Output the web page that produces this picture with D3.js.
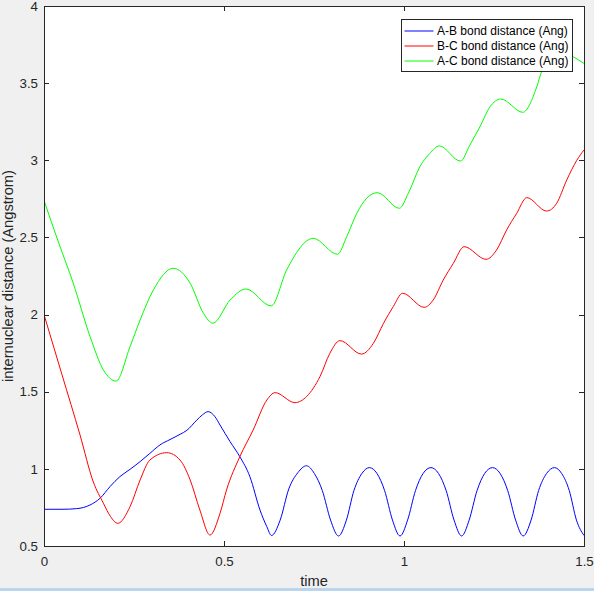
<!DOCTYPE html>
<html>
<head>
<meta charset="utf-8">
<script src="https://cdn.jsdelivr.net/npm/d3@7"></script>
<style>
  html, body { margin: 0; padding: 0; background: #f0f0f0; }
  svg { display: block; font-family: "Liberation Sans", Arial, Helvetica, sans-serif; }
  .axis path, .axis line { stroke: #262626; shape-rendering: crispEdges; }
  .axis text { fill: #262626; font-size: 13.3px; }
  .label { fill: #262626; font-size: 14.67px; }
  .legend text { fill: #000; font-size: 12px; }
</style>
</head>
<body>
<div id="chart"></div>
<script>
// A-B bond distance (blue)
const abTime = [0, 0.05, 0.09, 0.11, 0.128, 0.156, 0.183, 0.211, 0.239, 0.267,
  0.294, 0.322, 0.35, 0.378, 0.397, 0.424, 0.44, 0.456, 0.475, 0.489,
  0.517, 0.544, 0.572, 0.6, 0.619, 0.632, 0.656, 0.68, 0.705, 0.729,
  0.751, 0.773, 0.796, 0.818, 0.84, 0.861, 0.883, 0.904, 0.925, 0.946,
  0.968, 0.989, 1.01, 1.032, 1.053, 1.075, 1.096, 1.117, 1.139, 1.16,
  1.181, 1.203, 1.224, 1.246, 1.267, 1.288, 1.31, 1.331, 1.353, 1.374,
  1.396, 1.418, 1.438, 1.459, 1.479, 1.5];
const abDist = [0.738, 0.738, 0.742, 0.75, 0.766, 0.81, 0.884, 0.95, 0.997, 1.047,
  1.10, 1.155, 1.19, 1.224, 1.25, 1.315, 1.35, 1.371, 1.338, 1.284,
  1.176, 1.079, 0.949, 0.733, 0.625, 0.568, 0.668, 0.87, 0.975, 1.02,
  0.97, 0.86, 0.668, 0.565, 0.668, 0.86, 0.97, 1.008, 0.97, 0.86,
  0.668, 0.565, 0.668, 0.86, 0.97, 1.008, 0.97, 0.86, 0.668, 0.565,
  0.668, 0.86, 0.97, 1.008, 0.97, 0.86, 0.668, 0.565, 0.668, 0.86,
  0.97, 1.008, 0.97, 0.86, 0.668, 0.568];

// B-C bond distance (red)
const bcTime = [0, 0.05, 0.1, 0.137, 0.165, 0.185, 0.205, 0.239, 0.267, 0.294,
  0.341, 0.378, 0.406, 0.433, 0.461, 0.489, 0.507, 0.544, 0.581, 0.619,
  0.642, 0.697, 0.73, 0.767, 0.794, 0.822, 0.882, 0.915, 0.943, 0.97,
  0.996, 1.056, 1.081, 1.109, 1.137, 1.167, 1.228, 1.257, 1.285, 1.313,
  1.341, 1.396, 1.424, 1.452, 1.48, 1.5];
const bcDist = [2.0, 1.61, 1.22, 0.915, 0.777, 0.69, 0.647, 0.755, 0.928, 1.057,
  1.105, 1.057, 0.928, 0.733, 0.571, 0.712, 0.863, 1.079, 1.252, 1.446,
  1.494, 1.429, 1.47, 1.60, 1.749, 1.831, 1.744, 1.814, 1.943, 2.051,
  2.138, 2.047, 2.094, 2.224, 2.332, 2.44, 2.358, 2.418, 2.548, 2.656,
  2.758, 2.671, 2.721, 2.872, 3.0, 3.067];

// A-C bond distance (green)
const acTime = [0, 0.04, 0.081, 0.128, 0.165, 0.2, 0.239, 0.267, 0.304, 0.359,
  0.406, 0.443, 0.469, 0.517, 0.561, 0.631, 0.674, 0.748, 0.815, 0.841,
  0.869, 0.896, 0.926, 0.987, 1.012, 1.044, 1.072, 1.098, 1.157, 1.183,
  1.211, 1.239, 1.269, 1.33, 1.369, 1.383, 1.438, 1.47, 1.5];
const acDist = [2.74, 2.47, 2.205, 1.857, 1.641, 1.569, 1.792, 1.965, 2.16, 2.30,
  2.203, 2.008, 1.944, 2.094, 2.166, 2.056, 2.289, 2.494, 2.391, 2.505,
  2.657, 2.753, 2.79, 2.689, 2.786, 2.958, 3.045, 3.093, 2.995, 3.099,
  3.218, 3.347, 3.397, 3.311, 3.477, 3.579, 3.71, 3.671, 3.628];

const xTicks = [0, 0.5, 1, 1.5];
const xTickLabels = ['0', '0.5', '1', '1.5'];
const yTicks = [0.5, 1, 1.5, 2, 2.5, 3, 3.5, 4];
const yTickLabels = ['0.5', '1', '1.5', '2', '2.5', '3', '3.5', '4'];

const seriesNames = ['A-B bond distance (Ang)', 'B-C bond distance (Ang)', 'A-C bond distance (Ang)'];
const seriesColors = ['#0000ff', '#ff0000', '#00ff00'];

const width = 594;
const height = 591;
const margin = { top: 6, right: 10, bottom: 45, left: 44 };
const innerWidth = width - margin.left - margin.right;
const innerHeight = height - margin.top - margin.bottom;

const series = [
  d3.zip(abTime, abDist),
  d3.zip(bcTime, bcDist),
  d3.zip(acTime, acDist),
];

const svg = d3.select('#chart')
  .append('svg')
  .attr('width', width)
  .attr('height', height);

svg.append('rect')
  .attr('width', width)
  .attr('height', height)
  .attr('fill', '#f0f0f0');

const g = svg.append('g')
  .attr('transform', `translate(${margin.left}, ${margin.top})`);

const scaleX = d3.scaleLinear().domain([0, 1.5]).range([0, innerWidth]);
const scaleY = d3.scaleLinear().domain([0.5, 4]).range([innerHeight, 0]);

g.append('rect')
  .attr('width', innerWidth)
  .attr('height', innerHeight)
  .attr('fill', '#fff');

g.append('clipPath')
  .attr('id', 'plot-clip')
  .append('rect')
  .attr('width', innerWidth)
  .attr('height', innerHeight);

const line = d3.line()
  .curve(d3.curveMonotoneX)
  .x(d => scaleX(d[0]))
  .y(d => scaleY(d[1]));

g.append('g')
  .attr('clip-path', 'url(#plot-clip)')
  .selectAll('path')
  .data(series)
  .join('path')
  .attr('fill', 'none')
  .attr('stroke', (d, i) => seriesColors[i])
  .attr('stroke-width', 1)
  .attr('d', line);

// axes: labelled bottom/left, tick-only top/right
const fmtX = d => xTickLabels[xTicks.indexOf(d)];
const fmtY = d => yTickLabels[yTicks.indexOf(d)];

g.append('g')
  .attr('class', 'axis')
  .attr('transform', `translate(0, ${innerHeight})`)
  .call(d3.axisBottom(scaleX).tickValues(xTicks).tickFormat(fmtX)
    .tickSizeInner(-5).tickSizeOuter(0).tickPadding(11));

g.append('g')
  .attr('class', 'axis')
  .call(d3.axisLeft(scaleY).tickValues(yTicks).tickFormat(fmtY)
    .tickSizeInner(-5).tickSizeOuter(0).tickPadding(6));

g.append('g')
  .attr('class', 'axis axis--bare')
  .call(d3.axisTop(scaleX).tickValues(xTicks)
    .tickSizeInner(-5).tickSizeOuter(0));

g.append('g')
  .attr('class', 'axis axis--bare')
  .attr('transform', `translate(${innerWidth}, 0)`)
  .call(d3.axisRight(scaleY).tickValues(yTicks)
    .tickSizeInner(-5).tickSizeOuter(0));

svg.selectAll('.axis--bare .tick text').remove();
svg.selectAll('.axis .domain').attr('fill', 'none');

svg.append('text')
  .attr('class', 'label')
  .attr('x', margin.left + innerWidth / 2)
  .attr('y', 585.5)
  .attr('text-anchor', 'middle')
  .text('time');

svg.append('text')
  .attr('class', 'label')
  .attr('transform', `translate(13, ${margin.top + innerHeight / 2}) rotate(-90)`)
  .attr('text-anchor', 'middle')
  .text('internuclear distance (Angstrom)');

// legend
const legend = svg.append('g')
  .attr('class', 'legend')
  .attr('transform', 'translate(401.5, 19.5)');

legend.append('rect')
  .attr('width', 171)
  .attr('height', 52)
  .attr('fill', '#fff')
  .attr('stroke', '#262626')
  .attr('shape-rendering', 'crispEdges');

const items = legend.selectAll('.item')
  .data(seriesNames)
  .join('g')
  .attr('class', 'item')
  .attr('transform', (d, i) => `translate(0, ${11.5 + i * 15})`);

items.append('line')
  .attr('x1', 3)
  .attr('x2', 32)
  .attr('stroke', (d, i) => seriesColors[i])
  .attr('stroke-width', 1);

items.append('text')
  .attr('x', 35.5)
  .attr('dy', '0.35em')
  .text(d => d);

svg.append('rect')
  .attr('y', 588)
  .attr('width', width)
  .attr('height', 3)
  .attr('fill', '#bcd5ee');
</script>
</body>
</html>
